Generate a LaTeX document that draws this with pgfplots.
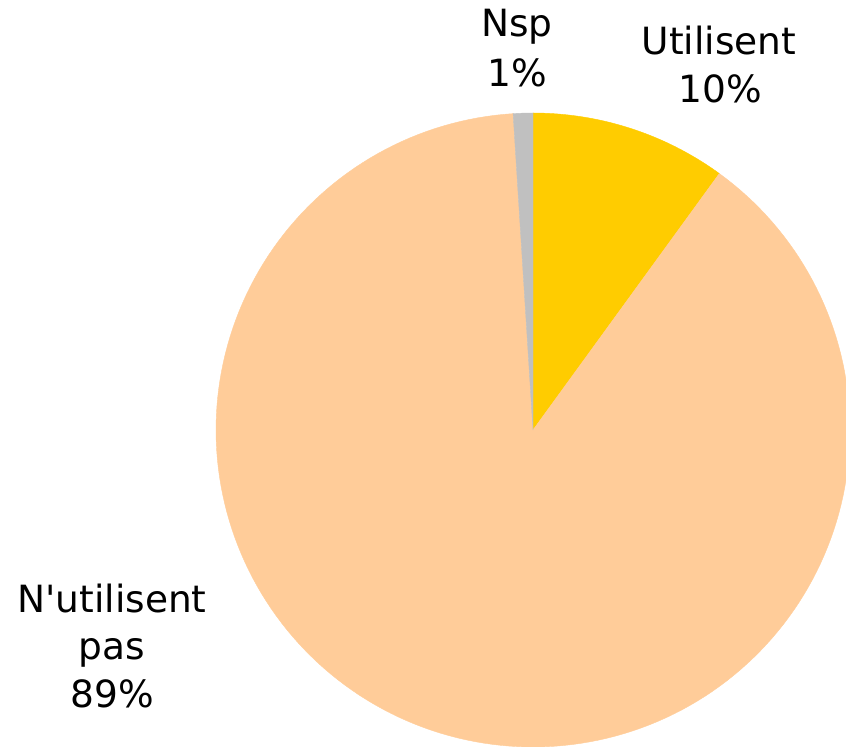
\documentclass[border=0pt]{standalone}
\usepackage{pgfplots}
\pgfplotsset{compat=1.18}
\usepackage{fontspec}
\setmainfont{DejaVu Sans}
\newfontfamily\labelfont{DejaVu Sans}
\definecolor{cUse}{HTML}{FFCC00}
\definecolor{cNot}{HTML}{FFCC99}
\definecolor{cNsp}{HTML}{C0C0C0}
% shares in percent
\def\pUse{10}
\def\pNot{89}
\def\pNsp{1}
\begin{document}
\begin{tikzpicture}
\begin{axis}[name=ax,
  width=846bp, height=747bp, scale only axis,
  xmin=0, xmax=846, ymin=0, ymax=747,
  hide axis, clip=true]
\pgfmathsetmacro{\aA}{\pUse*3.6}
\pgfmathsetmacro{\aB}{(\pUse+\pNot)*3.6}
\addplot[fill=cUse, draw=cUse, line width=0.4bp, domain=0:\aA, samples=40, variable=\t]
  ({533+317*sin(\t)},{317+317*cos(\t)}) -- (axis cs:533,317) -- cycle;
\addplot[fill=cNot, draw=cNot, line width=0.4bp, domain=\aA:\aB, samples=200, variable=\t]
  ({533+317*sin(\t)},{317+317*cos(\t)}) -- (axis cs:533,317) -- cycle;
\addplot[fill=cNsp, draw=cNsp, line width=0.4bp, domain=\aB:360, samples=10, variable=\t]
  ({533+317*sin(\t)},{317+317*cos(\t)}) -- (axis cs:533,317) -- cycle;
\end{axis}
\begin{scope}[every node/.style={font=\labelfont\fontsize{37.5bp}{47bp}\selectfont, inner sep=0pt, anchor=base}]
\node at ([xshift=517bp, yshift=-37bp]ax.north west) {Nsp};
\node at ([xshift=517bp, yshift=-87bp]ax.north west) {1\%};
\node at ([xshift=719bp, yshift=-55bp]ax.north west) {Utilisent};
\node at ([xshift=720bp, yshift=-103bp]ax.north west) {10\%};
\node at ([xshift=112bp, yshift=-613bp]ax.north west) {N'utilisent};
\node at ([xshift=112bp, yshift=-660bp]ax.north west) {pas};
\node at ([xshift=112bp, yshift=-708bp]ax.north west) {89\%};
\end{scope}
\pgfresetboundingbox
\path (ax.south west) rectangle (ax.north east);
\end{tikzpicture}
\end{document}
